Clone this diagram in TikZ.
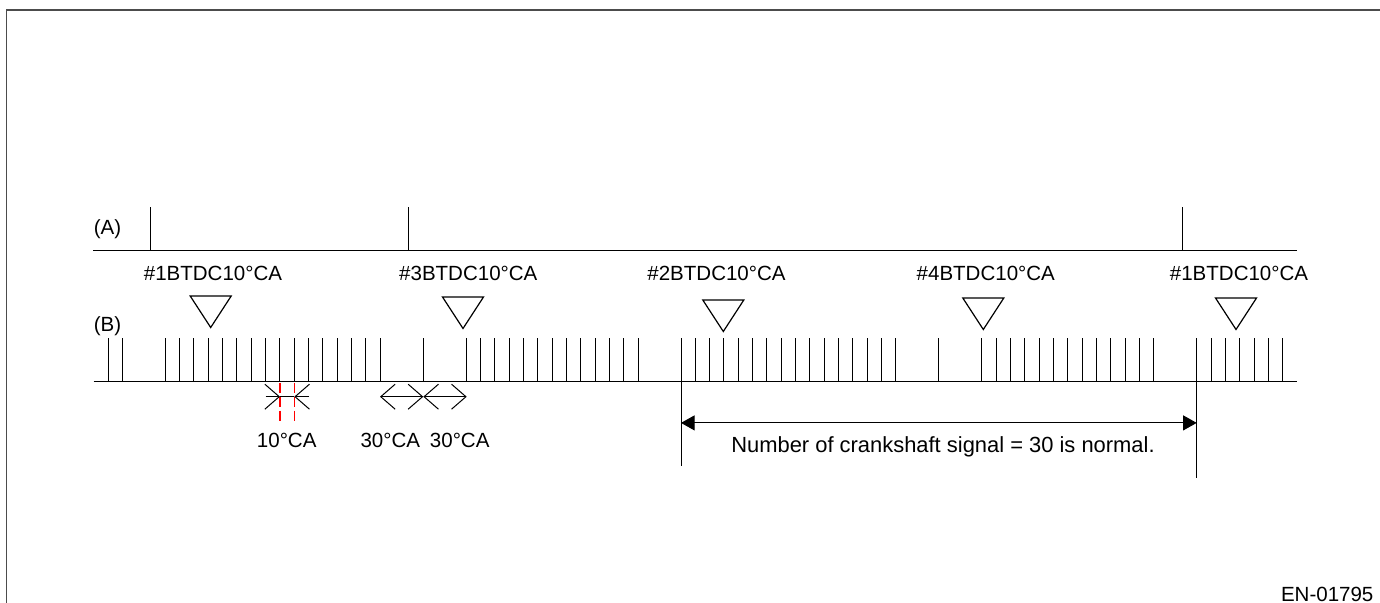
\documentclass[tikz,border=0pt]{standalone}
\usepackage{fontspec}
\setmainfont{Liberation Sans}
\usetikzlibrary{arrows.meta}

\begin{document}
\begin{tikzpicture}[x=0.5bp, y=-0.5bp, line width=0.6bp,
        lbl/.style={font=\fontsize{10.3}{12}\selectfont, inner sep=0pt},
        barb/.style={line width=0.5bp, -{Straight Barb[length=7.2bp, width=12.5bp]}},
        barbs/.style={line width=0.5bp, {Straight Barb[length=7.2bp, width=12.5bp]}-{Straight Barb[length=7.2bp, width=12.5bp]}}]
        \useasboundingbox (0,0) rectangle (1380,603);

        % Frame
        \draw[line width=0.8bp, black!70] (1380,10) -- (6.5,10) -- (6.5,603);

        % Signal (A)
        \node[lbl] (siga) at (107.5,229) {(A)};
        \draw (93.3,250.7) -- (1296.7,250.7);
        \foreach \s in {-1,17,71}
            \draw[line width=0.5bp] ({165.3+\s*14.325},250.7) -- ++(0,-44);

        % Cylinder marks
        \node[lbl] (m1) at (213,273.5) {\#1BTDC10°CA};
        \node[lbl] (m3) at (468.3,273.5) {\#3BTDC10°CA};
        \node[lbl] (m2) at (716.5,273.5) {\#2BTDC10°CA};
        \node[lbl] (m4) at (985.8,273.5) {\#4BTDC10°CA};
        \node[lbl] (m1b) at (1239,273.5) {\#1BTDC10°CA};
        \foreach \tx/\ty in {210.7/296, 463/297, 723.3/300, 983.3/298, 1236/298}
            \draw (\tx-20.5,\ty) -- (\tx+20.5,\ty) -- (\tx,\ty+31.5) -- cycle;

        % Signal (B), 10 deg CA per slot
        \node[lbl] (sigb) at (107.5,326) {(B)};
        \draw (93.7,381.7) -- (1297,381.7);
        \foreach \s in {-4,-3,0,1,...,15,18,21,22,...,33,36,37,...,51,54,57,58,...,69,72,73,...,78}
            \draw[line width=0.5bp] ({165.3+\s*14.325},381.7) -- ++(0,-43.4);

        % 10 deg CA
        \draw[red, dash pattern=on 5bp off 2bp, line width=0.6bp] (280,382.5) -- (280,422.5);
        \draw[red, dash pattern=on 5bp off 2bp, line width=0.6bp] (294.3,382.5) -- (294.3,422.5);
        \coordinate (p0) at (265.7,396.7);
        \coordinate (p1) at (280,396.7);
        \coordinate (p2) at (294.3,396.7);
        \coordinate (p3) at (309,396.7);
        \draw[barb] (p0) -- (p1);
        \draw[barb] (p3) -- (p2);
        \draw[line width=0.5bp] (p1) -- (p2);
        \node[lbl] (d10) at (286.7,440.7) {10°CA};

        % 30 deg CA
        \coordinate (q0) at (380,396.7);
        \coordinate (q1) at (423.3,396.7);
        \coordinate (q2) at (466.7,396.7);
        \draw[barbs] (q0) -- (q1);
        \draw[barbs] (q1) -- (q2);
        \node[lbl] (d30a) at (390.3,440.7) {30°CA};
        \node[lbl] (d30b) at (459.7,440.7) {30°CA};

        % Count of one revolution
        \draw[line width=0.5bp] (681,382) -- (681,466);
        \draw[line width=0.5bp] (1196.7,382) -- (1196.7,478);
        \coordinate (c0) at (681,422.9);
        \coordinate (c1) at (1196.7,422.9);
        \draw[line width=0.5bp, {Triangle[length=6.8bp, width=7.5bp]}-{Triangle[length=6.8bp, width=7.5bp]}] (c0) -- (c1);
        \node[font=\fontsize{11}{13}\selectfont, inner sep=0pt] (cnt) at (943,446.8) {Number of crankshaft signal = 30 is normal.};

        \node[lbl, anchor=east] (code) at (1374,594.3) {EN-01795};
    \end{tikzpicture}
\end{document}
